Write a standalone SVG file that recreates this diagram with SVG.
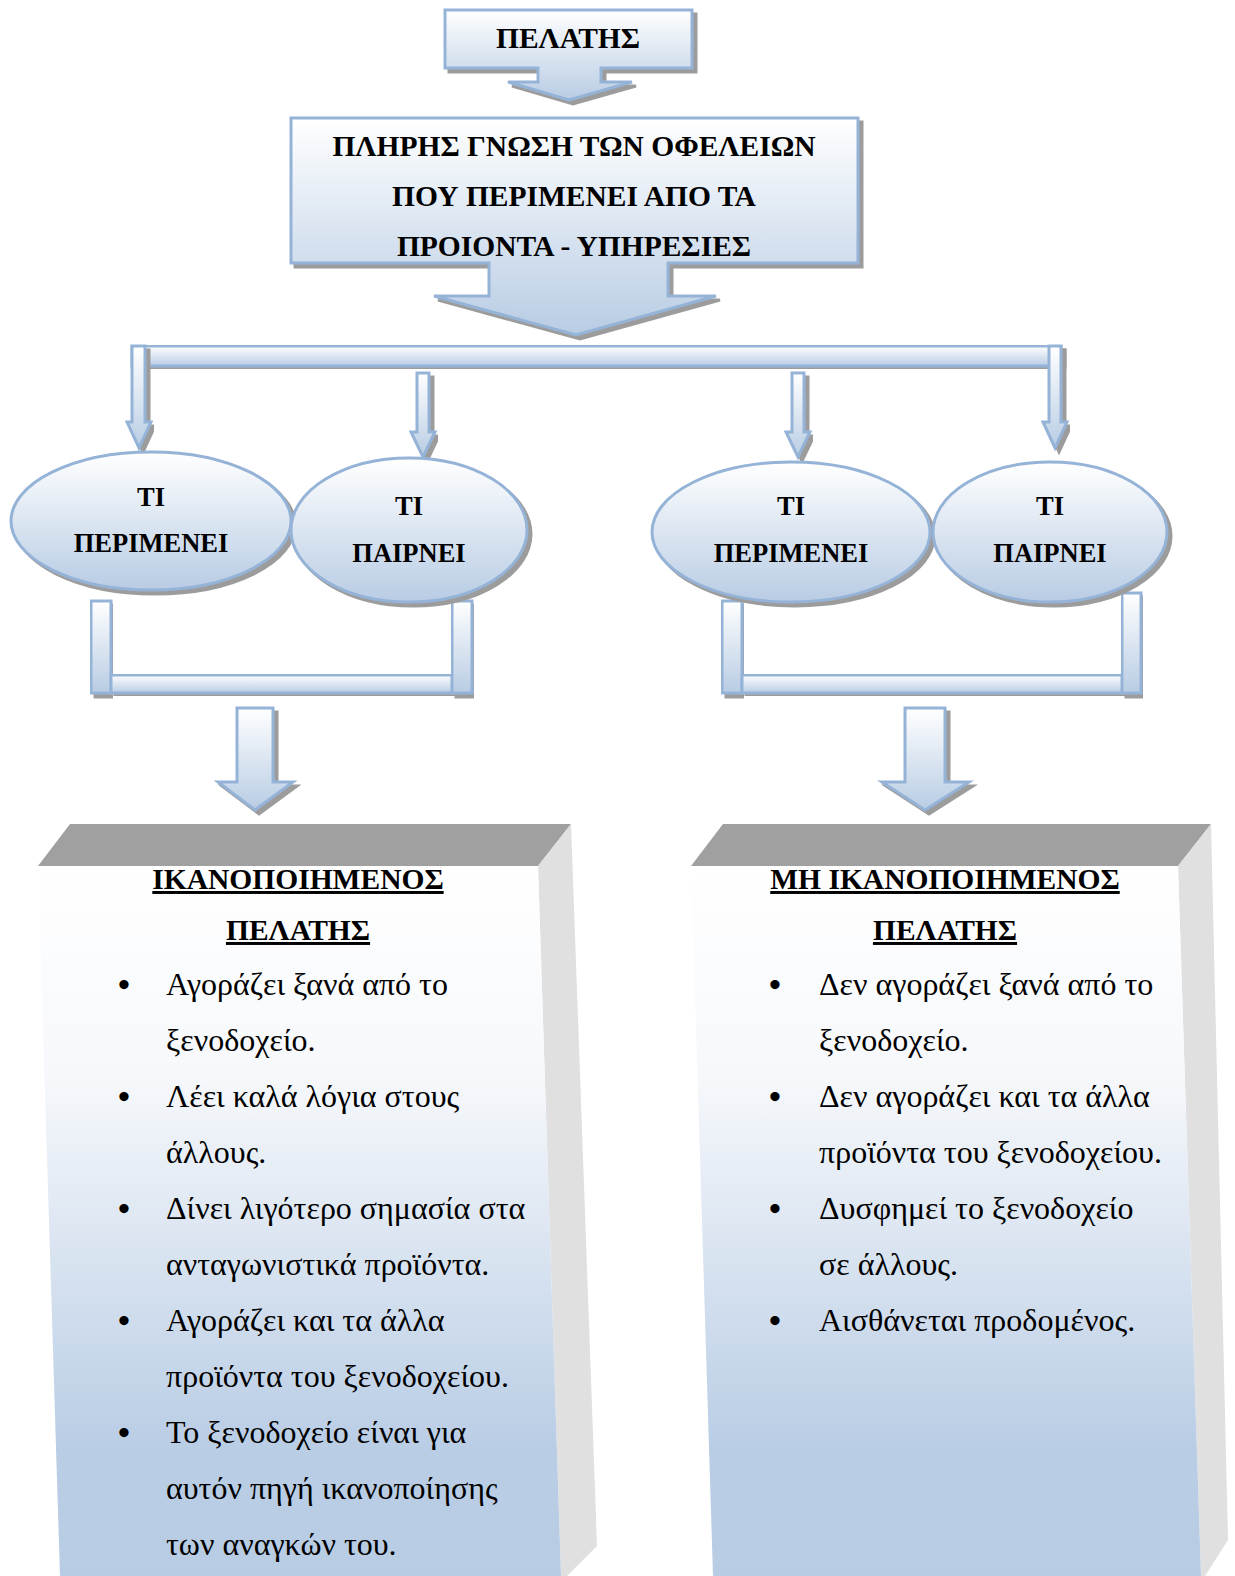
<svg xmlns="http://www.w3.org/2000/svg" width="1235" height="1576" viewBox="0 0 1235 1576">
  <defs>
    <linearGradient id="gV" x1="0" y1="0" x2="0" y2="1">
      <stop offset="0" stop-color="#ffffff"/>
      <stop offset="1" stop-color="#b8cce4"/>
    </linearGradient>
    <linearGradient id="gPanel" x1="0" y1="0" x2="0" y2="1">
      <stop offset="0" stop-color="#ffffff"/>
      <stop offset="0.3" stop-color="#f6f8fb"/>
      <stop offset="0.82" stop-color="#b9cde5"/>
      <stop offset="1" stop-color="#b8cce4"/>
    </linearGradient>
    <filter id="shadow" x="-5%" y="-5%" width="115%" height="120%">
      <feOffset in="SourceAlpha" dx="4" dy="4" result="o"/>
      <feFlood flood-color="#9c9c9c"/>
      <feComposite in2="o" operator="in" result="s"/>
      <feMerge>
        <feMergeNode in="s"/>
        <feMergeNode in="SourceGraphic"/>
      </feMerge>
    </filter>
    <style>
      .shape { fill: url(#gV); stroke: #95b3d7; stroke-width: 3; stroke-linejoin: miter; }
      .hd { font-family: "Liberation Serif", "Times New Roman", serif; font-weight: bold; font-size: 29.5px; fill: #000; text-anchor: middle; }
      .el { font-family: "Liberation Serif", "Times New Roman", serif; font-weight: bold; font-size: 26.5px; fill: #000; text-anchor: middle; }
      .body { font-family: "Liberation Serif", "Times New Roman", serif; font-size: 32px; fill: #000; }
      .bul { font-family: "Liberation Serif", "Times New Roman", serif; font-size: 34px; font-weight: bold; fill: #000; }
      .ul { text-decoration: underline; }
      .top { fill: #a0a0a0; }
      .side { fill: #e0e0e0; }
    </style>
  </defs>

  <rect width="1235" height="1576" fill="#ffffff"/>

  <!-- customer box with down arrow -->
  <g id="customer">
    <path class="shape" filter="url(#shadow)" d="M445,10 H692 V68 H601 V82 H632 L569,100 L508,82 H538 V68 H445 Z"/>
    <text class="hd" x="568" y="48">ΠΕΛΑΤΗΣ</text>
  </g>

  <!-- expected benefits box with down arrow -->
  <g id="benefits">
    <path class="shape" filter="url(#shadow)" d="M291,118 H858 V263 H668 V296 H716 L576,335 L434,296 H489 V263 H291 Z"/>
    <text class="hd" x="574" y="156">ΠΛΗΡΗΣ ΓΝΩΣΗ ΤΩΝ ΟΦΕΛΕΙΩΝ</text>
    <text class="hd" x="574" y="206">ΠΟΥ ΠΕΡΙΜΕΝΕΙ ΑΠΟ ΤΑ</text>
    <text class="hd" x="574" y="256">ΠΡΟΙΟΝΤΑ - ΥΠΗΡΕΣΙΕΣ</text>
  </g>

  <!-- connectors -->
  <g id="connectors">
    <!-- distribution bar -->
    <rect class="shape" filter="url(#shadow)" x="132" y="346" width="929" height="20"/>
    <path class="shape" filter="url(#shadow)" d="M132,346 H145 V422 H151 L139,448 L127,422 H132 Z"/>
    <path class="shape" filter="url(#shadow)" d="M1049,346 H1061 V422 H1067 L1055,448 L1043,422 H1049 Z"/>
    <path class="shape" filter="url(#shadow)" d="M417,373 H429 V432 H435 L423,457 L411,432 H417 Z"/>
    <path class="shape" filter="url(#shadow)" d="M792,373 H804 V432 H810 L798,457 L786,432 H792 Z"/>

    <!-- left bracket -->
    <rect class="shape" filter="url(#shadow)" x="91" y="601" width="20" height="92"/>
    <rect class="shape" filter="url(#shadow)" x="111" y="675" width="341" height="18"/>
    <rect class="shape" filter="url(#shadow)" x="452" y="601" width="20" height="92"/>
    <!-- right bracket -->
    <rect class="shape" filter="url(#shadow)" x="722" y="601" width="20" height="92"/>
    <rect class="shape" filter="url(#shadow)" x="742" y="675" width="380" height="18"/>
    <rect class="shape" filter="url(#shadow)" x="1122" y="593" width="19" height="100"/>

    <!-- arrows to outcome panels -->
    <path class="shape" filter="url(#shadow)" d="M237,708 H273 V782 H293 L255,810 L218,782 H237 Z"/>
    <path class="shape" filter="url(#shadow)" d="M905,708 H945 V782 H969 L925,810 L882,782 H905 Z"/>
  </g>

  <!-- ellipses -->
  <g id="expects-left">
    <ellipse class="shape" filter="url(#shadow)" cx="151" cy="521" rx="140" ry="69"/>
    <text class="el" x="151" y="506">ΤΙ</text>
    <text class="el" x="151" y="552">ΠΕΡΙΜΕΝΕΙ</text>
  </g>
  <g id="gets-left">
    <ellipse class="shape" filter="url(#shadow)" cx="409" cy="530" rx="118" ry="72"/>
    <text class="el" x="409" y="515">ΤΙ</text>
    <text class="el" x="409" y="562">ΠΑΙΡΝΕΙ</text>
  </g>
  <g id="expects-right">
    <ellipse class="shape" filter="url(#shadow)" cx="791" cy="532" rx="139" ry="70"/>
    <text class="el" x="791" y="515">ΤΙ</text>
    <text class="el" x="791" y="562">ΠΕΡΙΜΕΝΕΙ</text>
  </g>
  <g id="gets-right">
    <ellipse class="shape" filter="url(#shadow)" cx="1050" cy="532" rx="117" ry="70"/>
    <text class="el" x="1050" y="515">ΤΙ</text>
    <text class="el" x="1050" y="562">ΠΑΙΡΝΕΙ</text>
  </g>

  <!-- satisfied customer panel -->
  <g id="satisfied">
    <polygon class="top" points="70,824 571,824 538,866 38,866"/>
    <polygon class="side" points="538,866 571,824 597,1546 567,1576 561,1576"/>
    <polygon fill="url(#gPanel)" points="38,866 538,866 561,1576 60,1576"/>
    <text class="hd ul" x="298" y="889">ΙΚΑΝΟΠΟΙΗΜΕΝΟΣ</text>
    <text class="hd ul" x="298" y="940">ΠΕΛΑΤΗΣ</text>
    <g class="bul">
      <text x="118" y="996">•</text>
      <text x="118" y="1108">•</text>
      <text x="118" y="1220">•</text>
      <text x="118" y="1332">•</text>
      <text x="118" y="1444">•</text>
    </g>
    <g class="body">
      <text x="166" y="995">Αγοράζει ξανά από το</text>
      <text x="166" y="1051">ξενοδοχείο.</text>
      <text x="166" y="1107">Λέει καλά λόγια στους</text>
      <text x="166" y="1163">άλλους.</text>
      <text x="166" y="1219">Δίνει λιγότερο σημασία στα</text>
      <text x="166" y="1275">ανταγωνιστικά προϊόντα.</text>
      <text x="166" y="1331">Αγοράζει και τα άλλα</text>
      <text x="166" y="1387">προϊόντα του ξενοδοχείου.</text>
      <text x="166" y="1443">Το ξενοδοχείο είναι για</text>
      <text x="166" y="1499">αυτόν πηγή ικανοποίησης</text>
      <text x="166" y="1555">των αναγκών του.</text>
    </g>
  </g>

  <!-- dissatisfied customer panel -->
  <g id="dissatisfied">
    <polygon class="top" points="723,824 1211,824 1178,866 691,866"/>
    <polygon class="side" points="1178,866 1211,824 1228,1540 1205,1576 1201,1576"/>
    <polygon fill="url(#gPanel)" points="691,866 1178,866 1201,1576 713,1576"/>
    <text class="hd ul" x="945" y="889">ΜΗ ΙΚΑΝΟΠΟΙΗΜΕΝΟΣ</text>
    <text class="hd ul" x="945" y="940">ΠΕΛΑΤΗΣ</text>
    <g class="bul">
      <text x="769" y="996">•</text>
      <text x="769" y="1108">•</text>
      <text x="769" y="1220">•</text>
      <text x="769" y="1332">•</text>
    </g>
    <g class="body">
      <text x="819" y="995">Δεν αγοράζει ξανά από το</text>
      <text x="819" y="1051">ξενοδοχείο.</text>
      <text x="819" y="1107">Δεν αγοράζει και τα άλλα</text>
      <text x="819" y="1163">προϊόντα του ξενοδοχείου.</text>
      <text x="819" y="1219">Δυσφημεί το ξενοδοχείο</text>
      <text x="819" y="1275">σε άλλους.</text>
      <text x="819" y="1331">Αισθάνεται προδομένος.</text>
    </g>
  </g>
</svg>
